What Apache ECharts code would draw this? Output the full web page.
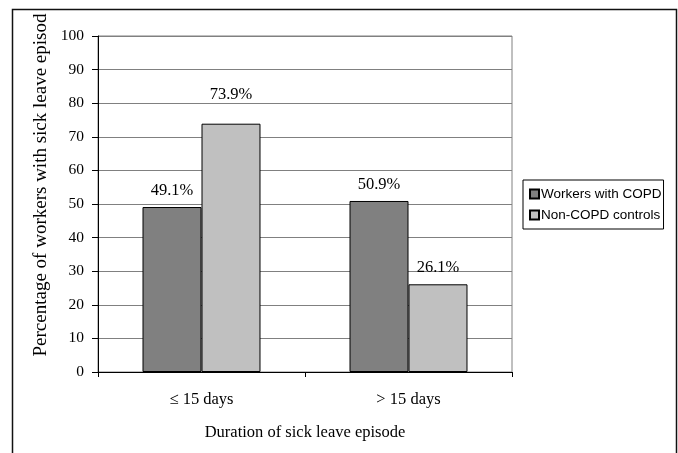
<!DOCTYPE html>
<html>
<head>
<meta charset="utf-8">
<script src="https://cdn.jsdelivr.net/npm/echarts@6/dist/echarts.min.js"></script>
<style>
html,body{margin:0;padding:0;background:#fff;}
#chart{width:678px;height:453px;}
</style>
</head>
<body>
<div id="chart"></div>
<script>
var categories = ['\u2264 15 days', '> 15 days'];
var copdValues = [49.1, 50.9];
var controlValues = [73.9, 26.1];
var seriesNames = ['Workers with COPD', 'Non-COPD controls'];
var yTitle = 'Percentage of workers with sick leave episod';
var xTitle = 'Duration of sick leave episode';

var serif = '"Liberation Serif", "Times New Roman", serif';
var sans = '"Liberation Sans", Arial, sans-serif';

var chart = echarts.init(document.getElementById('chart'), null, {renderer: 'canvas'});

function labelFmt(p) { return p.value.toFixed(1) + '%'; }

chart.setOption({
  animation: false,
  backgroundColor: '#fff',
  grid: {
    left: 98, top: 36, width: 414, height: 336,
    show: true, borderColor: '#808080', borderWidth: 1, backgroundColor: 'transparent'
  },
  legend: {
    orient: 'vertical',
    left: 523, top: 180,
    padding: [7, 2, 7, 6],
    itemGap: 7,
    itemWidth: 9, itemHeight: 9,
    borderColor: '#000', borderWidth: 1,
    icon: 'rect',
    textStyle: {fontFamily: sans, fontSize: 13.5, color: '#000', padding: [0, 0, 0, -3]},
    data: seriesNames
  },
  xAxis: {
    type: 'category',
    data: categories,
    axisLine: {lineStyle: {color: '#000', width: 1}},
    axisTick: {show: true, length: 5, lineStyle: {color: '#000'}},
    axisLabel: {fontFamily: serif, fontSize: 16.5, color: '#000', margin: 19},
    name: xTitle,
    nameLocation: 'middle',
    nameGap: 52,
    nameTextStyle: {fontFamily: serif, fontSize: 16.5, color: '#000'}
  },
  yAxis: {
    type: 'value',
    min: 0, max: 100, interval: 10,
    axisLine: {show: true, lineStyle: {color: '#000', width: 1}},
    axisTick: {show: true, length: 6, lineStyle: {color: '#000'}},
    axisLabel: {fontFamily: serif, fontSize: 15.5, color: '#000', margin: 14},
    splitLine: {lineStyle: {color: '#808080', width: 1}}
  },
  graphic: [
    {
      type: 'rect', silent: true, z: 100,
      shape: {x: 12.5, y: 9.5, width: 664, height: 470},
      style: {fill: 'none', stroke: '#111', lineWidth: 1.5}
    },
    {
      type: 'text', silent: true,
      x: 41, y: 185, rotation: Math.PI / 2,
      style: {
        text: yTitle, fontFamily: serif, fontSize: 19, fill: '#000',
        align: 'center', verticalAlign: 'middle'
      }
    }
  ],
  series: [
    {
      name: seriesNames[0], type: 'bar',
      data: copdValues,
      barGap: '0%', barCategoryGap: '43%',
      itemStyle: {color: '#808080', borderColor: '#000', borderWidth: 1},
      label: {show: true, position: 'top', distance: 8, formatter: labelFmt,
              fontFamily: serif, fontSize: 16.5, color: '#000'}
    },
    {
      name: seriesNames[1], type: 'bar',
      data: controlValues.map(function (v, i) {
        return i === 0 ? {value: v, label: {distance: 21}} : v;
      }),
      barGap: '0%', barCategoryGap: '43%',
      itemStyle: {color: '#c0c0c0', borderColor: '#000', borderWidth: 1},
      label: {show: true, position: 'top', distance: 8, formatter: labelFmt,
              fontFamily: serif, fontSize: 16.5, color: '#000'}
    }
  ]
});
</script>
</body>
</html>
